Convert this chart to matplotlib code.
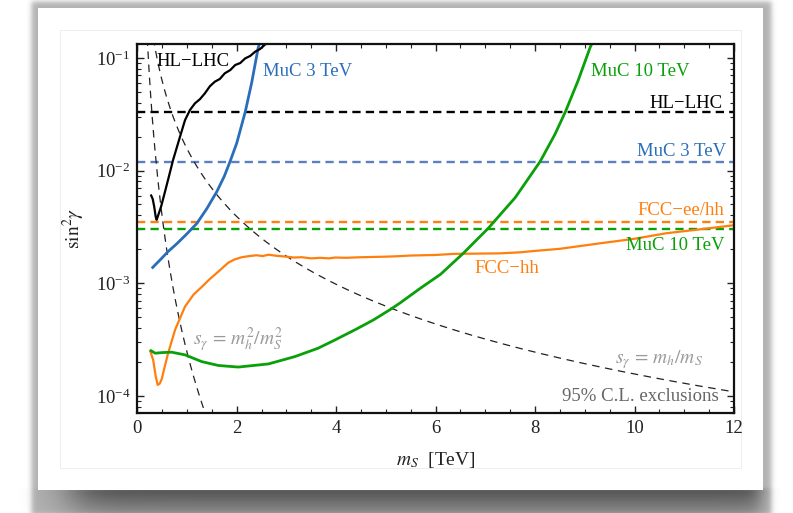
import numpy as np
import matplotlib
matplotlib.use("Agg")
import matplotlib.pyplot as plt
from matplotlib.ticker import MultipleLocator, LogLocator, NullFormatter

plt.rcParams['font.family'] = ['Liberation Serif', 'DejaVu Serif']
plt.rcParams['mathtext.fontset'] = 'stix'

# ---- data (m_S in TeV, sin^2 gamma) ----
hl_m = [0.28, 0.31, 0.34, 0.37, 0.39, 0.42, 0.48, 0.55, 0.62, 0.72, 0.86, 0.96, 1.06,
        1.16, 1.26, 1.36, 1.46, 1.56, 1.66, 1.76, 1.87, 1.97, 2.07, 2.17, 2.27, 2.37, 2.47, 2.6]
hl_v = [6.0e-3, 5.6e-3, 4.8e-3, 3.9e-3, 3.65e-3, 4.0e-3, 4.8e-3, 6.3e-3, 8.3e-3, 1.24e-2,
        2.0e-2, 2.8e-2, 3.45e-2, 3.95e-2, 4.3e-2, 4.85e-2, 5.6e-2, 6.15e-2, 6.5e-2, 7.3e-2,
        7.8e-2, 8.65e-2, 9.0e-2, 9.9e-2, 0.104, 0.1135, 0.12, 0.135]

muc3_m = [0.31, 0.46, 0.62, 0.80, 0.99, 1.20, 1.40, 1.60, 1.75, 1.865, 2.0, 2.17, 2.30, 2.43, 2.48]
muc3_v = [1.38e-3, 1.61e-3, 1.91e-3, 2.25e-3, 2.72e-3, 3.4e-3, 4.6e-3, 6.5e-3, 8.9e-3,
          1.2e-2, 1.75e-2, 3.3e-2, 6.0e-2, 0.122, 0.145]

fcc_m = [0.26, 0.32, 0.37, 0.41, 0.45, 0.49, 0.55, 0.62, 0.76, 0.96, 1.13, 1.30, 1.45, 1.56,
         1.70, 1.83, 1.95, 2.10, 2.25, 2.4, 2.52, 2.64, 2.8, 3.0, 3.15, 3.31, 3.5, 3.68, 3.85,
         3.98, 4.2, 4.5, 4.75, 5.02, 5.3, 5.5, 6.0, 6.36, 6.8, 7.3, 7.7, 7.97, 8.5, 9.31,
         10.0, 10.65, 11.3, 12.0]
fcc_v = [2.51e-4, 2.08e-4, 1.5e-4, 1.25e-4, 1.28e-4, 1.4e-4, 1.8e-4, 2.39e-4, 3.85e-4,
         6.2e-4, 7.9e-4, 9.3e-4, 1.08e-3, 1.19e-3, 1.35e-3, 1.52e-3, 1.62e-3, 1.70e-3,
         1.74e-3, 1.77e-3, 1.74e-3, 1.79e-3, 1.75e-3, 1.72e-3, 1.69e-3, 1.70e-3, 1.66e-3,
         1.68e-3, 1.66e-3, 1.69e-3, 1.68e-3, 1.70e-3, 1.71e-3, 1.72e-3, 1.74e-3, 1.76e-3,
         1.78e-3, 1.82e-3, 1.83e-3, 1.84e-3, 1.88e-3, 1.93e-3, 2.02e-3, 2.26e-3, 2.48e-3,
         2.78e-3, 3.0e-3, 3.27e-3]

muc10_m = [0.28, 0.36, 0.5, 0.69, 0.96, 1.30, 1.63, 2.03, 2.64, 3.17, 3.64, 3.98, 4.4, 4.75,
           5.12, 5.29, 5.69, 6.1, 6.56, 7.06, 7.6, 8.10, 8.40, 8.61, 8.87, 9.11, 9.2]
muc10_v = [2.51e-4, 2.39e-4, 2.42e-4, 2.44e-4, 2.31e-4, 2.01e-4, 1.86e-4, 1.80e-4, 1.92e-4,
           2.23e-4, 2.65e-4, 3.14e-4, 3.9e-4, 4.72e-4, 5.96e-4, 6.7e-4, 9.0e-4, 1.2e-3,
           1.85e-3, 3.08e-3, 5.75e-3, 1.2e-2, 2.1e-2, 3.33e-2, 6.37e-2, 0.125, 0.15]

# projected constant limits (dashed)
hl_const = 0.033
muc3_const = 0.012
fcc_const = 0.0035
muc10_const = 0.0030

# reference curves s_gamma = m_h/m_S and m_h^2/m_S^2
m_h = 0.125
ref_m = np.linspace(0.15, 12, 400)

c_black = '#000000'
c_blue = '#2a6ebb'
c_blue_d = '#5b80c0'
c_orange = '#ff7f0e'
c_green = '#0aa00a'

fig = plt.figure(figsize=(7.93, 5.13), dpi=100)

# ---- photo-card style background ----
bg = fig.add_axes([0, 0, 1, 1])
bg.axis('off')
H, W = 513, 793
yy, xx = np.mgrid[0:H, 0:W].astype(float)


def step(t, s):
    return 0.5 * (1 + np.tanh(t / s))


img = np.ones((H, W))
shadow = 0.30 * step(xx - 31, 3) * step(771 - xx, 3) * step(yy - 1, 3) * step(515 - yy, 3)
bottom = 0.38 * step(yy - 488, 2) * np.clip(1 - (yy - 489) / 40.0, 0, 1) * step(xx - 70, 25) * step(760 - xx, 10)
img = img - shadow - bottom
card = (xx >= 38) & (xx <= 762) & (yy >= 8) & (yy <= 489)
img[card] = 1.0
frame = (((np.abs(xx - 60) < 0.6) | (np.abs(xx - 741) < 0.6)) & (yy >= 30) & (yy <= 468)) | \
        (((np.abs(yy - 30) < 0.6) | (np.abs(yy - 468) < 0.6)) & (xx >= 60) & (xx <= 741))
img[frame] = 0.93
bg.imshow(img, cmap='gray', vmin=0, vmax=1, extent=[0, 1, 0, 1], aspect='auto', interpolation='bilinear')
bg.set_xlim(0, 1)
bg.set_ylim(0, 1)

# ---- main axes ----
ax = fig.add_axes([0.1731, 0.1944, 0.7525, 0.7192])
ax.set_facecolor('white')

ax.axhline(muc10_const, color=c_green, lw=1.7, ls=(0, (3.5, 2.2)))
ax.axhline(fcc_const, color=c_orange, lw=1.7, ls=(0, (3.5, 2.2)))
ax.axhline(muc3_const, color=c_blue_d, lw=1.7, ls=(0, (3.5, 2.2)))
ax.axhline(hl_const, color=c_black, lw=1.7, ls=(0, (3.5, 2.2)))

ax.plot(ref_m, (m_h / ref_m) ** 2, color='#222222', lw=0.9, ls=(0, (6, 4.5)))
ax.plot(ref_m, (m_h / ref_m) ** 4, color='#222222', lw=0.9, ls=(0, (6, 4.5)))

ax.plot(fcc_m, fcc_v, color=c_orange, lw=1.6)
ax.plot(muc10_m, muc10_v, color=c_green, lw=2.0)
ax.plot(muc3_m, muc3_v, color=c_blue, lw=2.0)
ax.plot(hl_m, hl_v, color=c_black, lw=1.6)

ax.set_yscale('log')
ax.set_xlim(0, 12)
ax.set_ylim(7.0e-5, 0.132)

ax.xaxis.set_major_locator(MultipleLocator(2))
ax.xaxis.set_minor_locator(MultipleLocator(0.5))
ax.yaxis.set_major_locator(LogLocator(base=10, numticks=10))
ax.yaxis.set_minor_locator(LogLocator(base=10, subs=np.arange(2, 10), numticks=20))
ax.yaxis.set_minor_formatter(NullFormatter())

ax.tick_params(which='both', direction='in', top=True, right=True, labelsize=13.5, colors='#222222')
ax.tick_params(which='major', length=5, width=1.0, pad=5)
ax.tick_params(which='minor', length=2.8, width=0.8)
for sp in ax.spines.values():
    sp.set_linewidth(1.6)
    sp.set_color('#111111')

ax.set_xlabel(r'$m_S$  [TeV]', fontsize=14, color='#222222')
ax.set_ylabel(r'$\sin^2\!\gamma$', fontsize=14, color='#222222')
ax.xaxis.set_label_coords(0.5, -0.100)
ax.yaxis.set_label_coords(-0.085, 0.5)

fs = 13.5
ax.text(0.38, 0.0925, 'HL\u2212LHC', color=c_black, fontsize=fs, ha='left', va='center')
ax.text(2.53, 0.0765, 'MuC 3 TeV', color=c_blue, fontsize=fs, ha='left', va='center')
ax.text(9.13, 0.0765, 'MuC 10 TeV', color=c_green, fontsize=fs, ha='left', va='center')
ax.text(11.78, 0.0395, 'HL\u2212LHC', color=c_black, fontsize=fs, ha='right', va='center')
ax.text(11.85, 0.0147, 'MuC 3 TeV', color=c_blue, fontsize=fs, ha='right', va='center')
ax.text(11.80, 4.4e-3, 'FCC\u2212ee/hh', color=c_orange, fontsize=fs, ha='right', va='center')
ax.text(11.80, 2.14e-3, 'MuC 10 TeV', color=c_green, fontsize=fs, ha='right', va='center')
ax.text(6.78, 1.34e-3, 'FCC\u2212hh', color=c_orange, fontsize=fs, ha='left', va='center')
ax.text(9.61, 2.08e-4, r'$s_\gamma\,=\,m_h/m_S$', color='#9a9a9a', fontsize=14, ha='left', va='center')
ax.text(1.13, 3.14e-4, r'$s_\gamma\,=\,m_h^2/m_S^2$', color='#9a9a9a', fontsize=14, ha='left', va='center')
ax.text(11.69, 9.86e-5, '95% C.L. exclusions', color='#666666', fontsize=fs, ha='right', va='center')

fig.savefig('out.png', dpi=100)
